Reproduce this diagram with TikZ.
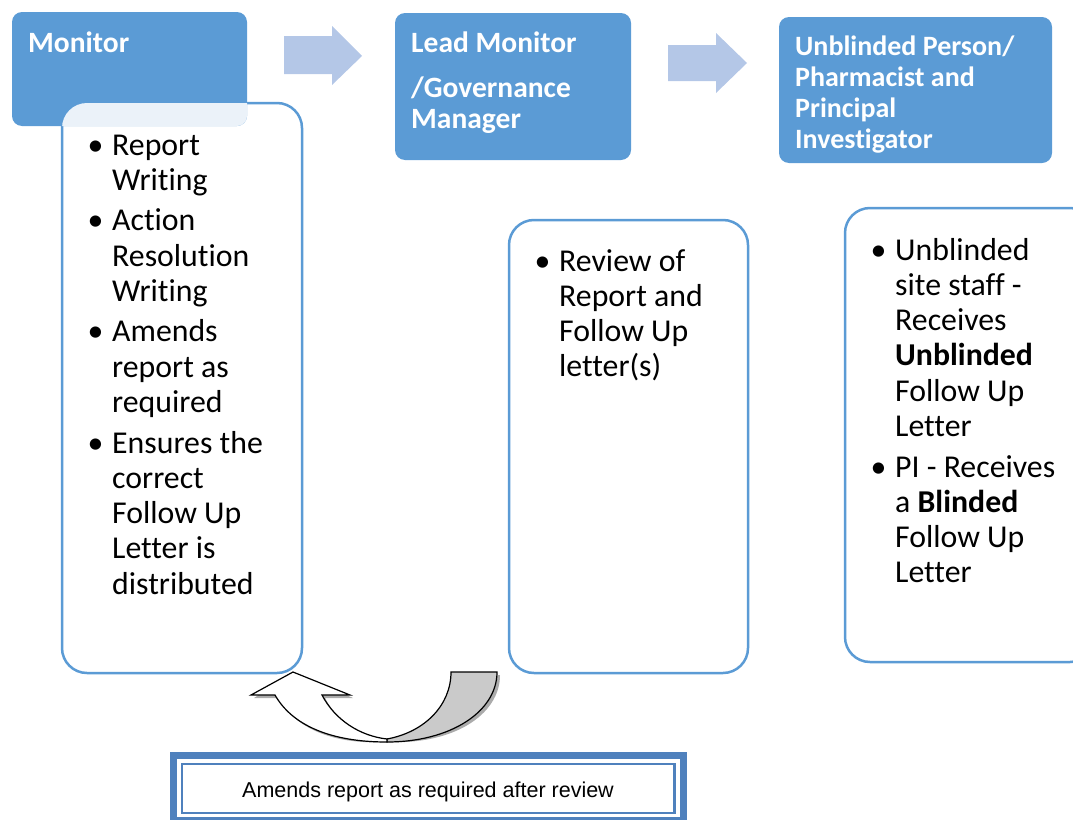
\documentclass[tikz,border=0pt]{standalone}
\usepackage{fontspec}
\setmainfont{Carlito}[RawFeature={-liga;-clig;-calt;-dlig}]
\newfontfamily\arialf{Liberation Sans}
\definecolor{hblue}{HTML}{5B9BD5}
\definecolor{arrblue}{HTML}{B4C7E7}
\definecolor{frameblue}{HTML}{4F81BD}
\definecolor{backgray}{HTML}{CACACA}
\newcommand\bu{\makebox[24.5pt][l]{\textbullet}}
\begin{document}
\begin{tikzpicture}[x=1pt,y=-1pt,
  hdrbox/.style={fill=hblue, draw=none, rounded corners=10pt, inner sep=0pt, outer sep=0pt},
  listbox/.style={draw=hblue, line width=2.5pt, fill=white, rounded corners=25pt, inner sep=0pt, outer sep=0pt},
  hdr/.style={font=\fontsize{28}{31}\selectfont\bfseries, text=white, inner sep=0pt, anchor=base west},
  hdrbig/.style={hdr, font=\fontsize{29.5}{31}\selectfont\bfseries},
  body/.style={font=\fontsize{31.8}{35.3}\selectfont, inner sep=0pt, anchor=base west},
  blockarrow/.style={fill=arrblue, draw=none},
  frontpart/.style={fill=white, draw=black, line width=1.2pt, line join=miter},
  backpart/.style={fill=backgray, draw=black, line width=1.2pt},
  shadowpart/.style={fill=black!55, draw=none, opacity=0.6}
]
\useasboundingbox (0,0) rectangle (1073,819);

% list boxes
\node[listbox, minimum width=240pt, minimum height=570pt] (list1) at (182,388) {};
\node[listbox, minimum width=239pt, minimum height=453pt] (list2) at (628.5,446.5) {};
\node[listbox, minimum width=250pt, minimum height=454pt] (list3) at (970,435) {};

% header boxes
\node[hdrbox, minimum width=235pt, minimum height=114pt] (mon) at (129.5,69) {};
\node[hdrbox, minimum width=236pt, minimum height=147pt] (lead) at (513,86.5) {};
\node[hdrbox, minimum width=273pt, minimum height=146pt] (unb) at (915.5,90) {};

% translucent overlap of list1 over Monitor box
\begin{scope}
  \clip[rounded corners=10pt] (mon.north west) rectangle (mon.south east);
  \fill[white, opacity=0.88, rounded corners=25pt] (list1.north west) rectangle (list1.south east);
\end{scope}

% header texts
\node[hdrbig] (monT) at (28,52) {Monitor};
\node[hdrbig] (leadT) at (411,52) {\begin{tabular}[t]{@{}l@{}}Lead Monitor\\[14pt]/Governance\\Manager\end{tabular}};
\node[hdr] (unbT) at (795,55) {\begin{tabular}[t]{@{}l@{}}Unblinded Person/\\Pharmacist and\\Principal\\Investigator\end{tabular}};

% block arrows
\fill[blockarrow] (284,36) -- (332,36) -- (332,26) -- (362,56) -- (332,85) -- (332,74) -- (284,74) -- cycle;
\fill[blockarrow] (668,45) -- (716,45) -- (716,33) -- (747,63) -- (716,93) -- (716,81) -- (668,81) -- cycle;

% list texts
\node[body] (l1) at (87.5,155) {\begin{tabular}[t]{@{}l@{}l@{}}
\bu & Report\\ & Writing\\[5.2pt]
\bu & Action\\ & Resolution\\ & Writing\\[5.2pt]
\bu & Amends\\ & report as\\ & required\\[5.2pt]
\bu & Ensures the\\ & correct\\ & Follow Up\\ & Letter is\\ & distributed
\end{tabular}};
\node[body] (l2) at (534.5,271) {\begin{tabular}[t]{@{}l@{}l@{}}
\bu & Review of\\ & Report and\\ & Follow Up\\ & letter(s)
\end{tabular}};
\node[body] (l3) at (870.5,260) {\begin{tabular}[t]{@{}l@{}l@{}}
\bu & Unblinded\\ & site staff -\\ & Receives\\ & \textbf{Unblinded}\\ & Follow Up\\ & Letter\\[5.2pt]
\bu & PI - Receives\\ & a \textbf{Blinded}\\ & Follow Up\\ & Letter
\end{tabular}};

% curved U-turn arrow
\coordinate (cb) at (387,742);
\coordinate (cc) at (387,739);
\coordinate (tip) at (293,672);
\begin{scope}[shift={(3,3)}]
  \fill[shadowpart] (cb) .. controls (450,742) and (497,712) .. (497,672) -- (451,672) .. controls (451,705) and (425,732) .. (cc) -- cycle;
\end{scope}
\draw[backpart] (cb) .. controls (450,742) and (497,712) .. (497,672) -- (451,672) .. controls (451,705) and (425,732) .. (cc) -- cycle;
\begin{scope}[shift={(3,3)}]
  \fill[shadowpart] (cb) .. controls (330,742) and (292,725) .. (275,695) -- (251,695) -- (tip) -- (350,695) -- (322,695) .. controls (335,720) and (360,736) .. (cc) -- cycle;
\end{scope}
\draw[frontpart] (cb) .. controls (330,742) and (292,725) .. (275,695) -- (251,695) -- (tip) -- (350,695) -- (322,695) .. controls (335,720) and (360,736) .. (cc) -- cycle;

% bottom framed box
\node[draw=frameblue, line width=7pt, fill=white, minimum width=510pt, minimum height=65pt, inner sep=0pt, outer sep=0pt] (frame) at (428,787.5) {};
\node[draw=frameblue, line width=2.5pt, minimum width=492.5pt, minimum height=49pt, inner sep=0pt, outer sep=0pt] (inner) at (428.25,788.5) {};
\node[font=\arialf\fontsize{21.5}{24}\selectfont, inner sep=0pt, anchor=base] (ftxt) at (428,797) {Amends report as required after review};
\end{tikzpicture}
\end{document}
